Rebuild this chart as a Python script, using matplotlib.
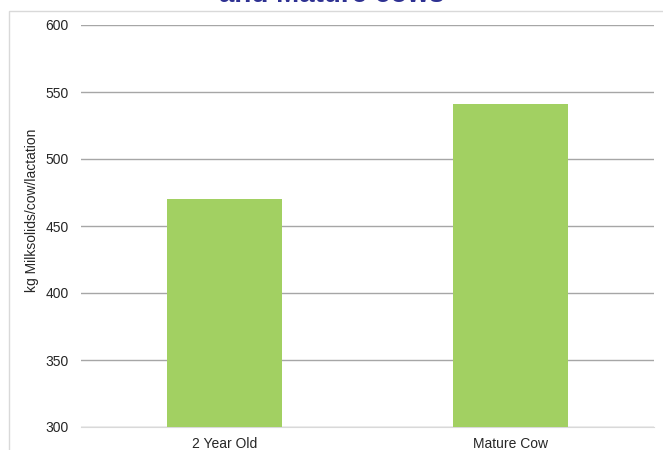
import matplotlib.pyplot as plt
from matplotlib.patches import Rectangle

plt.rcParams['font.family'] = ['Liberation Sans', 'DejaVu Sans']

categories = ['2 Year Old', 'Mature Cow']
milksolids = [470, 541]
y_ticks = [300, 350, 400, 450, 500, 550, 600]

fig = plt.figure(figsize=(6.63, 4.5), dpi=100)

# chart frame (cut off at right/bottom like the source)
fig.patches.append(Rectangle((9 / 663, -0.05), 1.1, 1.05 - 11 / 450,
                             transform=fig.transFigure, fill=False,
                             edgecolor='#d9d9d9', lw=1))

# title mostly above the image, only the bottom shows
fig.text(332 / 663, 1 - 1.5 / 450, 'and Mature cows', ha='center', va='baseline',
         fontsize=20, fontweight='bold', color='#2e3192')

ax = fig.add_axes([81 / 663, 1 - 427 / 450, (654 - 81) / 663, (427 - 25) / 450])
x = range(len(categories))
ax.bar(x, milksolids, width=0.4, color='#a2d062', zorder=3)

ax.set_xlim(-0.5, 1.5)
ax.set_ylim(300, 600)
ax.set_yticks(y_ticks)
ax.set_xticks(list(x))
ax.set_xticklabels(categories)
ax.yaxis.grid(True, color='#a6a6a6', lw=1, zorder=0)
for s in ['top', 'right', 'left']:
    ax.spines[s].set_visible(False)
ax.spines['bottom'].set_color('#d9d9d9')
ax.tick_params(axis='both', length=0, labelsize=10, colors='#262626')
ax.tick_params(axis='y', pad=9)
ax.tick_params(axis='x', pad=7)
ax.set_ylabel('kg Milksolids/cow/lactation', fontsize=10, color='#262626',
              va='center')
ax.yaxis.set_label_coords(-0.085, 0.54)

fig.savefig('out.png', dpi=100)
